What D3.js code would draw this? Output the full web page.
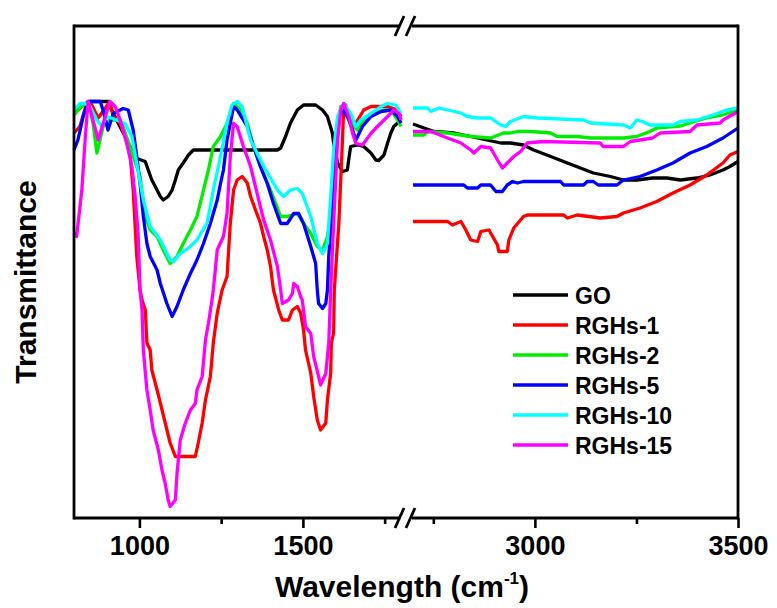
<!DOCTYPE html>
<html>
<head>
<meta charset="utf-8">
<script src="https://cdn.jsdelivr.net/npm/d3@7"></script>
<style>
  body { margin: 0; background: #fff; }
  svg { font-family: "Liberation Sans", Arial, sans-serif; font-weight: bold; }
</style>
</head>
<body>
<svg id="chart" width="777" height="608"></svg>
<script>
// FTIR spectra, [wavenumber cm-1, transmittance a.u.]
var goData = [
  [800,81.3],[812,81.6],[828,82.6],[849,83.3],[904,83.3],[910,82.3],[935,79.0],[962,75.6],[980,73.0],[992,71.9],
  [1018,71.3],[1027,69.6],[1038,67.6],[1054,65.6],[1064,64.3],[1073,63.6],[1088,64.3],[1100,65.6],[1110,67.6],
  [1119,69.6],[1134,71.0],[1150,72.6],[1165,73.6],[1422,73.6],[1432,74.0],[1447,76.3],[1462,79.0],[1483,81.6],
  [1502,82.6],[1539,82.6],[1560,81.6],[1575,80.3],[1590,77.0],[1594,75.0],[1606,71.0],[1621,69.3],[1636,69.6],
  [1640,71.6],[1646,74.3],[1667,74.6],[1686,74.3],[1708,73.0],[1723,71.6],[1732,71.5],[1748,72.6],[1759,75.0],
  [1769,77.0],[1778,78.3],[1790,79.0],[1800,79.3],
  [2700,78.8],[2727,78.0],[2752,77.3],[2801,77.0],[2842,76.3],[2916,75.0],[2940,75.0],[2972,74.6],[2997,73.6],
  [3039,72.3],[3080,71.0],[3112,70.0],[3144,69.0],[3186,68.3],[3218,67.6],[3251,67.6],[3290,68.0],[3325,68.0],
  [3358,67.6],[3399,68.0],[3431,68.6],[3463,69.6],[3480,70.3],[3500,71.3]
];
var rghs1 = [
  [800,77.0],[818,78.3],[839,83.0],[849,83.3],[874,80.0],[910,83.3],[920,80.3],[941,79.0],[956,76.3],[972,72.3],
  [981,65.6],[992,52.3],[1002,45.6],[1008,43.6],[1018,41.6],[1023,35.0],[1033,33.6],[1038,29.6],[1054,25.6],
  [1064,23.0],[1079,19.0],[1094,15.0],[1110,12.3],[1171,12.3],[1180,15.0],[1192,19.0],[1202,23.6],[1217,28.3],
  [1226,35.0],[1238,41.0],[1253,45.6],[1268,48.3],[1278,59.0],[1288,65.6],[1299,67.6],[1314,68.3],[1330,67.0],
  [1340,64.3],[1355,61.6],[1370,59.0],[1380,56.3],[1391,53.6],[1401,50.3],[1410,45.6],[1426,41.6],[1437,39.6],
  [1456,39.6],[1468,41.6],[1483,42.3],[1493,41.0],[1502,37.6],[1508,33.6],[1524,29.0],[1533,24.3],[1544,19.6],
  [1554,17.6],[1570,19.0],[1575,23.6],[1585,29.0],[1587,35.0],[1594,37.0],[1596,45.6],[1610,59.0],[1621,75.6],
  [1625,82.3],[1631,82.6],[1640,80.3],[1646,79.6],[1662,79.0],[1686,81.6],[1708,82.3],[1759,82.3],[1790,81.6],
  [1800,80.3],
  [2700,59.3],[2785,59.3],[2797,58.6],[2818,59.3],[2830,57.6],[2842,55.6],[2859,55.3],[2867,57.3],[2887,57.6],
  [2896,56.3],[2908,54.6],[2911,53.3],[2932,53.3],[2936,55.6],[2948,58.0],[2972,60.3],[2981,60.6],[3071,60.6],
  [3080,60.0],[3104,60.6],[3161,60.0],[3202,60.3],[3218,61.0],[3259,62.0],[3300,63.3],[3340,65.0],[3382,66.6],
  [3423,68.6],[3463,71.0],[3480,72.6],[3500,73.3]
];
var rghs2 = [
  [800,80.6],[818,82.0],[843,83.3],[858,79.0],[870,73.0],[889,78.3],[910,79.6],[941,79.6],[950,78.3],[981,72.3],
  [1002,68.3],[1018,60.3],[1033,57.6],[1054,56.3],[1073,53.6],[1094,50.9],[1115,52.3],[1134,54.9],[1156,57.6],
  [1176,60.3],[1196,65.6],[1211,69.6],[1226,74.3],[1248,76.3],[1268,78.9],[1288,82.9],[1309,81.6],[1330,78.9],
  [1349,74.3],[1370,70.3],[1401,65.6],[1432,60.3],[1452,60.3],[1483,60.9],[1502,58.9],[1524,56.9],[1544,54.3],
  [1560,53.6],[1575,56.3],[1585,60.3],[1594,72.3],[1606,78.9],[1616,82.3],[1631,82.3],[1646,78.9],[1667,77.6],
  [1686,79.6],[1717,80.9],[1748,81.6],[1769,81.6],[1790,79.6],[1800,78.3],
  [2700,76.6],[2727,76.6],[2736,77.3],[2785,77.0],[2842,76.3],[2891,76.0],[2923,77.0],[2940,77.0],[2957,77.3],
  [2990,77.3],[3039,77.0],[3055,76.3],[3104,76.3],[3137,76.0],[3218,76.0],[3251,76.3],[3283,77.3],[3300,78.0],
  [3358,78.4],[3382,79.0],[3423,80.0],[3463,80.6],[3500,81.6]
];
var rghs5 = [
  [800,73.6],[812,75.6],[828,80.3],[843,83.3],[880,83.3],[889,81.6],[904,77.6],[920,80.9],[950,81.9],[966,81.6],
  [981,77.6],[992,72.3],[1002,66.9],[1012,60.3],[1023,54.9],[1033,52.3],[1054,49.6],[1064,46.9],[1084,42.9],
  [1100,40.3],[1115,42.3],[1134,45.6],[1156,48.9],[1176,51.6],[1196,54.9],[1217,58.9],[1238,63.6],[1248,66.9],
  [1257,69.6],[1268,75.6],[1288,82.3],[1299,81.6],[1330,78.3],[1349,74.3],[1370,70.3],[1391,66.9],[1410,62.9],
  [1432,58.9],[1452,58.9],[1472,60.9],[1487,60.9],[1502,58.9],[1524,54.3],[1539,50.9],[1544,45.6],[1548,42.9],
  [1560,41.9],[1570,42.9],[1575,45.6],[1579,52.3],[1590,62.3],[1600,75.6],[1610,80.3],[1621,81.6],[1636,80.3],
  [1652,77.6],[1662,75.6],[1682,78.3],[1708,80.3],[1739,81.3],[1769,81.6],[1790,80.3],[1800,79.0],
  [2700,66.6],[2825,66.6],[2834,66.0],[2859,66.0],[2867,66.6],[2891,66.6],[2904,65.3],[2920,65.3],[2932,66.6],
  [2945,67.3],[2957,67.0],[2972,67.3],[3063,67.3],[3071,66.6],[3120,66.6],[3129,67.3],[3144,67.3],[3156,66.6],
  [3202,66.6],[3218,67.6],[3259,68.3],[3300,69.6],[3340,71.0],[3382,73.0],[3423,74.3],[3463,76.0],[3500,78.0]
];
var rghs10 = [
  [800,81.6],[818,82.9],[834,82.9],[849,82.3],[870,79.6],[885,78.3],[900,80.3],[931,79.6],[956,78.9],[977,76.3],
  [992,70.9],[1012,63.6],[1033,58.3],[1064,55.6],[1094,51.6],[1105,51.3],[1125,52.9],[1150,54.0],[1176,55.6],
  [1207,59.0],[1226,65.6],[1248,72.3],[1268,79.0],[1283,82.6],[1299,83.3],[1314,82.3],[1340,75.6],[1380,70.3],
  [1422,65.6],[1441,64.3],[1462,65.6],[1483,65.9],[1498,64.9],[1524,60.3],[1544,54.9],[1560,52.9],[1575,54.9],
  [1585,64.3],[1594,73.6],[1606,80.3],[1625,82.9],[1646,80.9],[1662,78.3],[1677,79.6],[1708,80.9],[1739,82.3],
  [1759,82.9],[1784,82.6],[1800,80.9],
  [2700,82.0],[2736,82.0],[2744,81.3],[2764,82.0],[2818,81.0],[2834,80.3],[2859,80.0],[2891,80.0],[2916,78.6],
  [2928,78.3],[2940,79.3],[2972,80.3],[3006,80.0],[3120,79.6],[3137,79.0],[3218,78.6],[3235,78.0],[3251,79.6],
  [3265,79.3],[3283,78.6],[3340,78.6],[3358,79.3],[3399,79.6],[3438,80.6],[3472,81.6],[3500,82.0]
];
var rghs15 = [
  [800,56.9],[808,56.3],[824,65.6],[834,75.6],[843,83.3],[858,79.6],[874,75.6],[889,78.9],[910,83.3],[926,82.3],
  [941,79.6],[962,74.9],[977,70.3],[987,64.3],[996,56.9],[1002,45.6],[1008,41.6],[1012,33.6],[1023,25.6],
  [1033,21.6],[1042,17.6],[1058,13.6],[1069,9.6],[1079,6.9],[1088,3.6],[1094,2.3],[1110,3.6],[1115,8.9],
  [1125,15.6],[1140,18.9],[1156,21.6],[1171,22.9],[1176,25.6],[1192,28.3],[1202,35.6],[1211,38.9],[1222,43.6],
  [1226,45.6],[1238,53.6],[1257,56.3],[1268,60.9],[1278,72.3],[1288,78.9],[1299,78.3],[1318,74.3],[1340,70.3],
  [1360,64.9],[1380,59.6],[1401,55.6],[1422,50.3],[1432,45.6],[1437,42.9],[1456,43.6],[1468,44.9],[1472,46.9],
  [1483,46.3],[1493,44.3],[1498,43.6],[1508,38.3],[1524,36.9],[1533,32.3],[1548,28.3],[1554,26.6],[1570,28.9],
  [1575,32.3],[1579,34.9],[1585,45.6],[1594,58.9],[1606,75.6],[1616,81.6],[1625,82.9],[1640,80.3],[1652,76.9],
  [1662,74.9],[1682,74.6],[1708,76.9],[1728,78.3],[1759,80.3],[1778,81.6],[1794,80.9],[1800,79.6],
  [2700,77.3],[2744,77.3],[2785,76.0],[2818,75.0],[2842,73.6],[2850,73.0],[2867,74.3],[2891,74.0],[2908,71.6],
  [2920,70.0],[2932,71.0],[2948,72.3],[2965,73.3],[2981,75.0],[3021,75.3],[3161,75.0],[3168,74.3],[3218,74.3],
  [3235,75.3],[3290,76.0],[3308,77.0],[3382,77.3],[3399,78.6],[3456,79.0],[3463,79.6],[3500,81.3]
];

var seriesNames = ["GO", "RGHs-1", "RGHs-2", "RGHs-5", "RGHs-10", "RGHs-15"];
var seriesData = [goData, rghs1, rghs2, rghs5, rghs10, rghs15];
var seriesColors = ["#000000", "#ff0000", "#00ee00", "#0000ff", "#00ffff", "#ff00ff"];

var lowTicks = [1000, 1500], lowMinor = [1250, 1750];
var highTicks = [3000, 3500], highMinor = [2750, 3250];

function drawChart() {
  var svg = d3.select("#chart");
  var pTop = 26, pBottom = 518, pLeft = 74, pRight = 738;
  var gapL = 401, gapR = 413;

  // broken x axis: two linear pieces
  var xLow = d3.scaleLinear().domain([800, 1800]).range([pLeft, gapL]);
  var xHigh = d3.scaleLinear().domain([2700, 3500]).range([gapR, pRight]);
  var y = d3.scaleLinear().domain([0, 98.4]).range([pBottom, pTop]);

  var lineLow = d3.line().x(d => xLow(d[0])).y(d => y(d[1]));
  var lineHigh = d3.line().x(d => xHigh(d[0])).y(d => y(d[1]));

  var plot = svg.append("g");
  seriesData.forEach(function(data, i) {
    var lo = data.filter(d => d[0] <= 1800);
    var hi = data.filter(d => d[0] >= 2700);
    plot.append("path").attr("d", lineLow(lo))
      .attr("fill", "none").attr("stroke", seriesColors[i])
      .attr("stroke-width", 3.3).attr("stroke-linejoin", "round");
    plot.append("path").attr("d", lineHigh(hi))
      .attr("fill", "none").attr("stroke", seriesColors[i])
      .attr("stroke-width", 3.3).attr("stroke-linejoin", "round");
  });

  // frame
  var frame = svg.append("g").attr("stroke", "#000").attr("stroke-width", 2.8).attr("fill", "none");
  frame.append("line").attr("x1", pLeft).attr("x2", pLeft).attr("y1", pTop - 1.4).attr("y2", pBottom + 1.4);
  frame.append("line").attr("x1", pRight).attr("x2", pRight).attr("y1", pTop - 1.4).attr("y2", pBottom + 1.4);
  [pTop, pBottom].forEach(function(yy) {
    frame.append("line").attr("x1", pLeft).attr("x2", gapL - 2).attr("y1", yy).attr("y2", yy);
    frame.append("line").attr("x1", gapR - 1).attr("x2", pRight).attr("y1", yy).attr("y2", yy);
    // break marks
    frame.append("line").attr("x1", gapL - 6).attr("y1", yy + 10).attr("x2", gapL + 3).attr("y2", yy - 10);
    frame.append("line").attr("x1", gapL + 5).attr("y1", yy + 10).attr("x2", gapL + 14).attr("y2", yy - 10);
  });

  // x axes
  function drawAxis(scale, major, minor) {
    var gMaj = svg.append("g").attr("transform", "translate(0," + pBottom + ")")
      .call(d3.axisBottom(scale).tickValues(major).tickSize(10).tickPadding(8).tickFormat(d3.format("d")));
    var gMin = svg.append("g").attr("transform", "translate(0," + pBottom + ")")
      .call(d3.axisBottom(scale).tickValues(minor).tickSize(6).tickFormat(""));
    [gMaj, gMin].forEach(function(g) {
      g.select(".domain").remove();
      g.selectAll(".tick line").attr("stroke", "#000").attr("stroke-width", 2.6);
    });
    gMaj.selectAll(".tick text").attr("fill", "#000")
      .style("font-size", "27px").style("font-weight", "bold")
      .style("font-family", "'Liberation Sans', Arial, sans-serif");
  }
  drawAxis(xLow, lowTicks, lowMinor);
  drawAxis(xHigh, highTicks, highMinor);

  // axis titles
  var xt = svg.append("text").attr("x", 402).attr("y", 597).attr("text-anchor", "middle")
    .style("font-size", "30px");
  xt.append("tspan").text("Wavelength (cm");
  xt.append("tspan").attr("dy", -13).style("font-size", "17px").text("-1");
  xt.append("tspan").attr("dy", 13).text(")");

  svg.append("text").attr("transform", "translate(36,282) rotate(-90)")
    .attr("text-anchor", "middle").style("font-size", "30px").text("Transmittance");

  // legend
  var leg = svg.append("g");
  seriesNames.forEach(function(name, i) {
    var yy = 295 + i * 30;
    leg.append("line").attr("x1", 513).attr("x2", 568).attr("y1", yy).attr("y2", yy)
      .attr("stroke", seriesColors[i]).attr("stroke-width", 3.5);
    leg.append("text").attr("x", 575).attr("y", yy + 8.5).style("font-size", "23px").text(name);
  });
}
drawChart();
</script>
</body>
</html>
